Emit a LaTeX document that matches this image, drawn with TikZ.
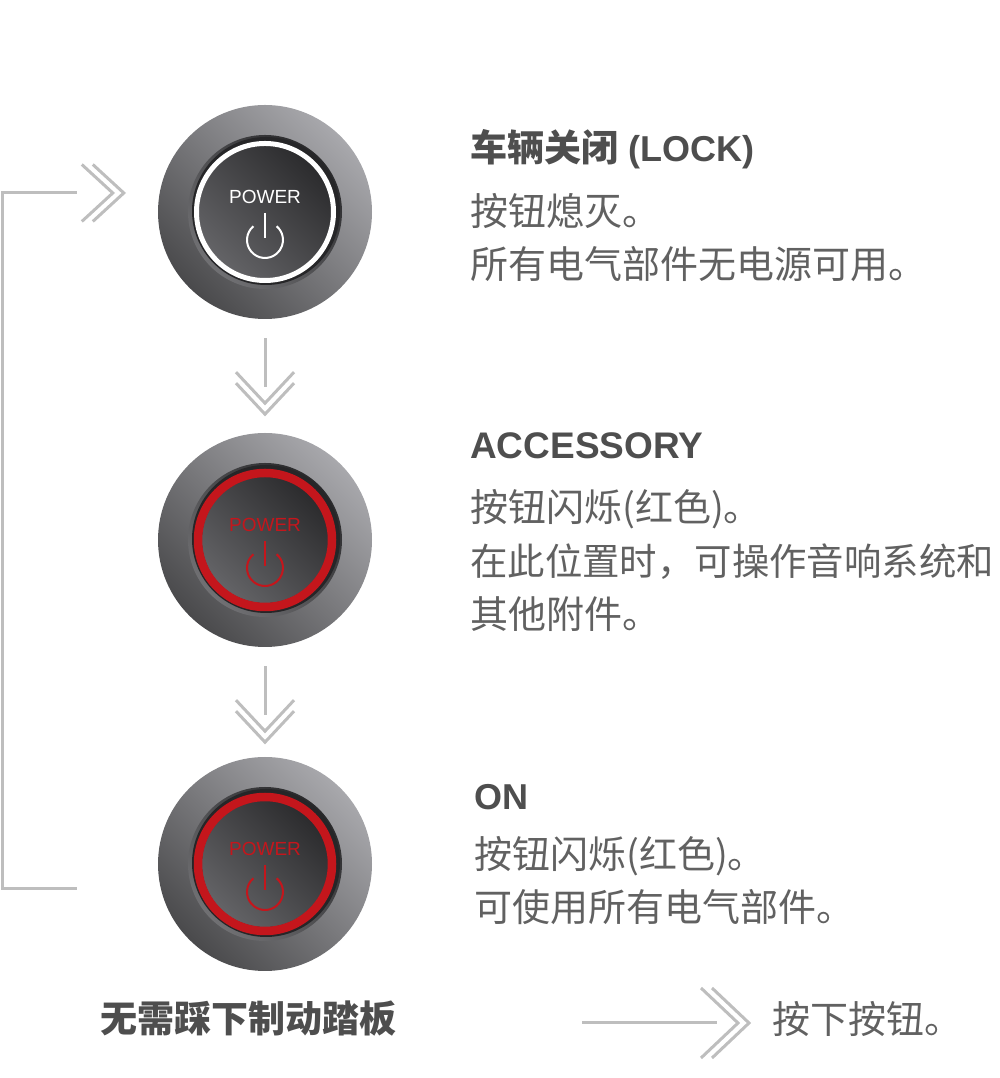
\documentclass[tikz,border=0pt]{standalone}
\usepackage{fontspec}
\setmainfont{Liberation Sans}
\newfontfamily\cjk{Noto Sans CJK SC}
\definecolor{knoblight}{HTML}{A8A8AC}
\definecolor{knobdark}{HTML}{4A4A4C}
\definecolor{bevlight}{HTML}{707073}
\definecolor{bevdark}{HTML}{2A2A2C}
\definecolor{rimdark}{HTML}{262628}
\definecolor{facelight}{HTML}{636366}
\definecolor{facedark}{HTML}{2C2C2E}
\definecolor{ledred}{HTML}{C4161C}
\definecolor{flowgray}{HTML}{BEBEBE}
\definecolor{headgray}{HTML}{4E4E4E}
\definecolor{bodygray}{HTML}{616161}
\begin{document}
\begin{tikzpicture}[x=1pt,y=1pt,
    knob/.style={circle, inner sep=0pt, minimum size=214pt, top color=knoblight, bottom color=knobdark, shading angle=-45},
    flow/.style={draw=flowgray, line width=3pt},
    head/.style={anchor=base west, inner sep=0pt, text=headgray, font=\bfseries\fontsize{36}{36}\selectfont},
    body/.style={anchor=base west, inner sep=0pt, text=bodygray, font=\cjk\fontsize{38}{38}\selectfont}]
 \useasboundingbox (0,0) rectangle (1000,1078);
 % buttons
 \node[knob] (b1) at (265,866) {};
 \node[knob] (b2) at (265,538) {};
 \node[knob] (b3) at (265,214) {};
 \foreach \b/\ring/\rw/\rr/\ir in {b1/white/5pt/68.5pt/66pt, b2/ledred/8.5pt/67pt/63pt, b3/ledred/8.5pt/67pt/63pt}{
   \shade[top color=bevdark, bottom color=bevlight, shading angle=-45] (\b.center) circle (77pt);
   \fill[rimdark] ([shift={(1pt,1pt)}]\b.center) circle (74pt);
   \shade[top color=facedark, bottom color=facelight, shading angle=-45] (\b.center) circle (\ir);
   \draw[\ring, line width=\rw] (\b.center) circle (\rr);
   \node[text=\ring, inner sep=0pt, anchor=base, font=\fontsize{19}{19}\selectfont] (\b-label) at ([yshift=8pt]\b.center) {POWER};
   \draw[\ring, line width=2pt] ([yshift=-1pt]\b.center) -- ([yshift=-26pt]\b.center);
   \draw[\ring, line width=2pt] ([yshift=-28pt]\b.center) ++(130:18pt) arc (130:410:18pt);
 }
 % arrows between the buttons
 \foreach \b in {b1,b2}{
   \draw[flow] ([yshift=-19pt]\b.south) -- ([yshift=-68pt]\b.south);
   \draw[flow] ([shift={(-29pt,-53pt)}]\b.south) -- ([yshift=-84pt]\b.south) -- ([shift={(29pt,-53pt)}]\b.south);
   \draw[flow] ([shift={(-29pt,-64pt)}]\b.south) -- ([yshift=-95pt]\b.south) -- ([shift={(29pt,-64pt)}]\b.south);
 }
 % back to the first one
 \coordinate (back-in) at ([shift={(-81pt,-25pt)}]b3.west);
 \coordinate (back-out) at ([shift={(-81pt,19pt)}]b1.west);
 \draw[flow] (back-in) -- +(-74pt,0) |- (back-out);
 \draw[flow] ([shift={(-76pt,47.5pt)}]b1.west) -- ([shift={(-45pt,19pt)}]b1.west) -- ([shift={(-76pt,-9.5pt)}]b1.west);
 \draw[flow] ([shift={(-65pt,47.5pt)}]b1.west) -- ([shift={(-34pt,19pt)}]b1.west) -- ([shift={(-65pt,-9.5pt)}]b1.west);
 % texts
 \node[head] (lock) at (470,916) {{\cjk\fontsize{37}{37}\selectfont 车辆关闭} (LOCK)};
 \node[body] (lock-a) at (470,852) {按钮熄灭。};
 \node[body] (lock-b) at (470,799) {所有电气部件无电源可用。};
 \node[head, font=\bfseries\fontsize{37}{37}\selectfont] (acc) at (470,619) {ACCESSORY};
 \node[body] (acc-a) at (470,556) {按钮闪烁(红色)。};
 \node[body, font=\cjk\fontsize{37.4}{37.4}\selectfont] (acc-b) at (470,502) {在此位置时，可操作音响系统和};
 \node[body] (acc-c) at (470,449) {其他附件。};
 \node[head] (on) at (474,268) {ON};
 \node[body] (on-a) at (474,209) {按钮闪烁(红色)。};
 \node[body] (on-b) at (474,156) {可使用所有电气部件。};
 \node[head, font=\cjk\bfseries\fontsize{37}{37}\selectfont] (nobrake) at (100,45) {无需踩下制动踏板};
 % key
 \coordinate (key-a) at (582,55);
 \coordinate (key-b) at (717,55);
 \draw[flow] (key-a) -- (key-b);
 \draw[flow] ([shift={(-16pt,35pt)}]key-b) -- ([xshift=21pt]key-b) -- ([shift={(-16pt,-35pt)}]key-b);
 \draw[flow] ([shift={(-5pt,35pt)}]key-b) -- ([xshift=32pt]key-b) -- ([shift={(-5pt,-35pt)}]key-b);
 \node[body] (press) at (772,44) {按下按钮。};
\end{tikzpicture}
\end{document}
